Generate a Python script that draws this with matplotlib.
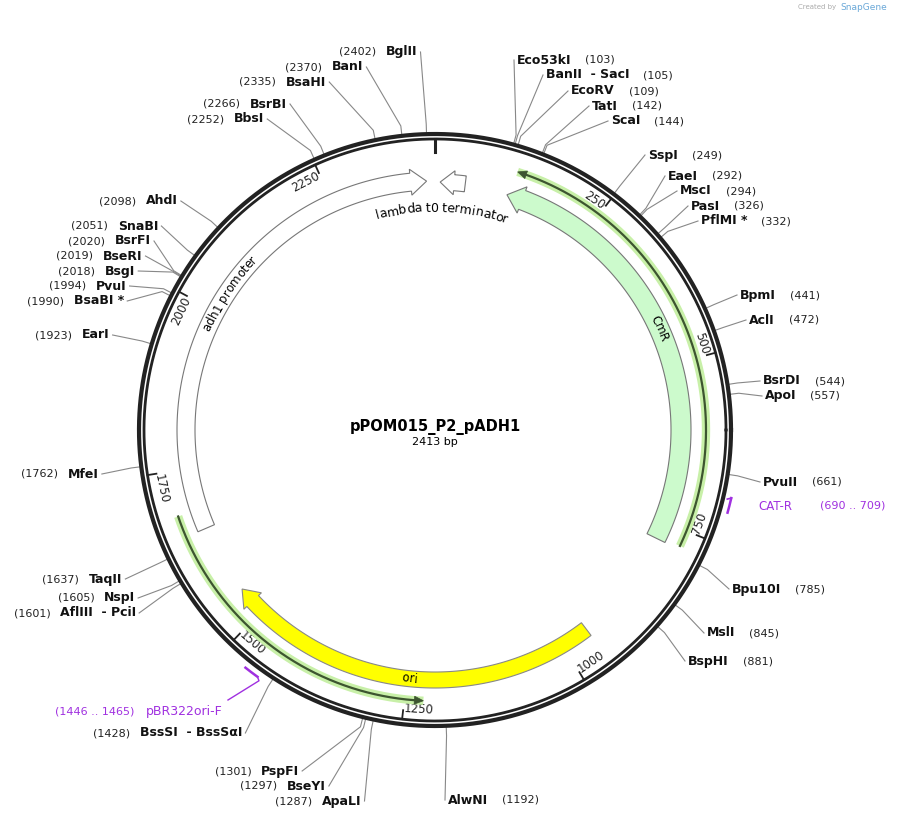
import numpy as np
import matplotlib
matplotlib.use("Agg")
import matplotlib.pyplot as plt
from matplotlib.patches import Polygon
from matplotlib.font_manager import FontProperties

W, H = 897, 819
CX, CY = 435, 430
R_OUT, R_IN = 296, 291
TOTAL = 2413

# enzyme sites: name, bp, side, name x, y
ENZ_NAMES = ["Eco53kI", "BanII  - SacI", "EcoRV", "TatI", "ScaI", "SspI", "EaeI", "MscI",
             "PasI", "PflMI *", "BpmI", "AclI", "BsrDI", "ApoI", "PvuII", "Bpu10I", "MslI",
             "BspHI", "AlwNI",
             "BglII", "BanI", "BsaHI", "BsrBI", "BbsI", "AhdI", "SnaBI", "BsrFI", "BseRI",
             "BsgI", "PvuI", "BsaBI *", "EarI", "MfeI", "TaqII", "NspI", "AflIII  - PciI",
             "BssSI  - BssSαI", "PspFI", "BseYI", "ApaLI"]
ENZ_BP = [103, 105, 109, 142, 144, 249, 292, 294, 326, 332, 441, 472, 544, 557, 661, 785,
          845, 881, 1192,
          2402, 2370, 2335, 2266, 2252, 2098, 2051, 2020, 2019, 2018, 1994, 1990, 1923, 1762,
          1637, 1605, 1601, 1428, 1301, 1297, 1287]
ENZ_SIDE = ["R"] * 19 + ["L"] * 21
ENZ_X = [517, 546, 571, 592, 611, 648, 668, 680, 691, 701, 740, 749, 763, 765, 763, 732,
         707, 688, 448,
         386, 332, 286, 250, 234, 146, 118, 115, 103, 105, 96, 74, 82, 68, 89, 104, 60,
         140, 261, 287, 322]
ENZ_Y = [60, 75, 91, 106, 121, 155, 176, 191, 206, 221, 295, 320, 381, 396, 482, 589,
         633, 661, 800,
         52, 67, 82, 104, 119, 201, 226, 241, 256, 271, 286, 301, 335, 474, 579, 598, 613,
         733, 771, 786, 801]

TICKS = [250, 500, 750, 1000, 1250, 1500, 1750, 2000, 2250]


def ang(bp):
    return bp / TOTAL * 2 * np.pi


def pt(bp, r):
    a = ang(bp)
    return CX + r * np.sin(a), CY - r * np.cos(a)


def arc(b0, b1, r, n=200):
    bps = np.linspace(b0, b1, n)
    return [pt(b, r) for b in bps]


def arrow(b0, b1, r1, r2, fc, ec, head=16, forward=True):
    rm = (r1 + r2) / 2
    hb = head / (2 * np.pi * rm) * TOTAL
    if forward:
        poly = arc(b0, b1 - hb, r1) + [pt(b1 - hb, r1 - 4), pt(b1, rm), pt(b1 - hb, r2 + 4)] \
            + arc(b1 - hb, b0, r2)
    else:
        poly = arc(b1, b0 + hb, r1) + [pt(b0 + hb, r1 - 4), pt(b0, rm), pt(b0 + hb, r2 + 4)] \
            + arc(b0 + hb, b1, r2)
    ax.add_patch(Polygon(poly, closed=True, fc=fc, ec=ec, lw=0.8, zorder=3))


def orf(b0, b1, r, forward=True):
    xs, ys = zip(*arc(b0, b1, r))
    ax.plot(xs, ys, color="#c8f0a8", lw=6, solid_capstyle="butt", zorder=3)
    hb = 9 / (2 * np.pi * r) * TOTAL
    if forward:
        xs, ys = zip(*arc(b0, b1 - hb, r))
        tip = [pt(b1 - hb, r - 4), pt(b1, r), pt(b1 - hb, r + 4)]
    else:
        xs, ys = zip(*arc(b0 + hb, b1, r))
        tip = [pt(b0 + hb, r - 4), pt(b0, r), pt(b0 + hb, r + 4)]
    ax.plot(xs, ys, color="#3d5530", lw=1.6, zorder=4)
    ax.add_patch(Polygon(tip, closed=True, fc="#3d5530", ec="#3d5530", lw=0.5, zorder=4))


def curved(text, bp_c, r, size, flip=False, **kw):
    prop = FontProperties(family="DejaVu Sans", size=size)
    widths = [renderer.get_text_width_height_descent(c if c != " " else "a", prop, ismath=False)[0]
              * (0.45 if c == " " else 1.0) for c in text]
    total = sum(widths)
    a_c = ang(bp_c)
    sgn = -1 if flip else 1
    cur = -total / 2
    for c, w in zip(text, widths):
        a = a_c + sgn * (cur + w / 2) / r
        x, y = CX + r * np.sin(a), CY - r * np.cos(a)
        rot = -np.degrees(a) + (180 if flip else 0)
        ax.text(x, y, c, fontsize=size, rotation=rot, rotation_mode="anchor",
                ha="center", va="center", **kw)
        cur += w


fig = plt.figure(figsize=(W / 100, H / 100), dpi=100)
ax = fig.add_axes([0, 0, 1, 1])
ax.set_xlim(0, W)
ax.set_ylim(H, 0)
ax.axis("off")
renderer = fig.canvas.get_renderer()

# backbone
t = np.linspace(0, 2 * np.pi, 720)
for r, lw in ((R_OUT, 3.0), (R_IN, 2.0)):
    ax.plot(CX + r * np.cos(t), CY + r * np.sin(t), color="#222222", lw=lw, zorder=5)
x0, y0 = pt(0, R_IN)
x1, y1 = pt(0, R_IN - 13)
ax.plot([x0, x1], [y0, y1], color="#222222", lw=2.2, zorder=5)

# ticks
for tk in TICKS:
    xa, ya = pt(tk, R_IN)
    xb, yb = pt(tk, R_IN - 9)
    ax.plot([xa, xb], [ya, yb], color="#222222", lw=1.3, zorder=5)
    lab = str(tk)
    tw = 6.2 * len(lab)
    a = ang(tk)
    flip = np.pi / 2 < a < 3 * np.pi / 2
    al = a - (tw / 2 + 3) / 279
    xt, yt = CX + 280 * np.sin(al), CY - 280 * np.cos(al)
    rot = -np.degrees(al) + (180 if flip else 0)
    ax.text(xt, yt, lab, fontsize=8.5, rotation=rot, rotation_mode="anchor",
            ha="center", va="center", color="#222222")

# features
arrow(114, 778, 236, 256, "#ccfacc", "#777777", forward=False)
arrow(957, 1545, 242, 258, "#ffff00", "#888888", forward=True)
arrow(1654, 2400, 240, 258, "white", "#777777", forward=True)
arrow(8, 47, 240, 256, "white", "#777777", head=14, forward=False)
orf(119, 773, 271, forward=False)
orf(1223, 1685, 271, forward=False)

curved("lambda t0 terminator", 12, 222, 9)
curved("adh1 promoter", 2035, 249, 8.5)
curved("CmR", 440, 246, 8.5)
curved("ori", 1245, 250, 8.5, flip=True)

# primers
pc = "#a030e0"
xs, ys = zip(*arc(690, 709, 304))
ax.plot(xs, ys, color=pc, lw=1.8, zorder=5)
xa, ya = pt(690, 304)
ax.plot([xa, xa - 4], [ya, ya + 1], color=pc, lw=1.2)
ax.text(758, 506, "CAT-R", fontsize=8.5, color=pc, va="center")
ax.text(820, 506, "(690 .. 709)", fontsize=8, color=pc, va="center")
xs, ys = zip(*arc(1446, 1465, 304))
ax.plot(xs, ys, color=pc, lw=1.8, zorder=5)
xa, ya = pt(1446, 304)
ax.plot([xa, xa + 1.5, 228], [ya, ya + 4, 700], color=pc, lw=1.0)
ax.text(146, 712, "pBR322ori-F", fontsize=9, color=pc, va="center")
ax.text(55, 712, "(1446 .. 1465)", fontsize=8, color=pc, va="center")

# enzymes
for name, bp, side, x, y in zip(ENZ_NAMES, ENZ_BP, ENZ_SIDE, ENZ_X, ENZ_Y):
    tx = ax.text(x, y, name, fontsize=9, fontweight="bold", va="center", ha="left",
                 color="#111111")
    num = "(%d)" % bp
    if side == "R":
        ax.annotate(num, xy=(1, 0.5), xycoords=tx, xytext=(10, 0), textcoords="offset points",
                    fontsize=8, va="center", ha="left", color="#222222")
        ex = x - 3
    else:
        ax.annotate(num, xy=(0, 0.5), xycoords=tx, xytext=(-7, 0), textcoords="offset points",
                    fontsize=8, va="center", ha="right", color="#222222")
        bb = tx.get_window_extent(renderer)
        ex = bb.x1 + 3
    pa = pt(bp, R_OUT + 1)
    pb = pt(bp, R_OUT + 10)
    ax.plot([pa[0], pb[0], ex], [pa[1], pb[1], y], color="#888888", lw=0.8, zorder=1)

ax.text(CX, 427, "pPOM015_P2_pADH1", fontsize=10.5, fontweight="bold", ha="center", va="center")
ax.text(CX, 442, "2413 bp", fontsize=8, ha="center", va="center")
ax.text(836, 7, "Created by", fontsize=5, color="#aaaaaa", ha="right", va="center")
ax.text(840, 7, "SnapGene", fontsize=6.5, color="#6aa8d8", ha="left", va="center")

fig.savefig("out.png", dpi=100)
